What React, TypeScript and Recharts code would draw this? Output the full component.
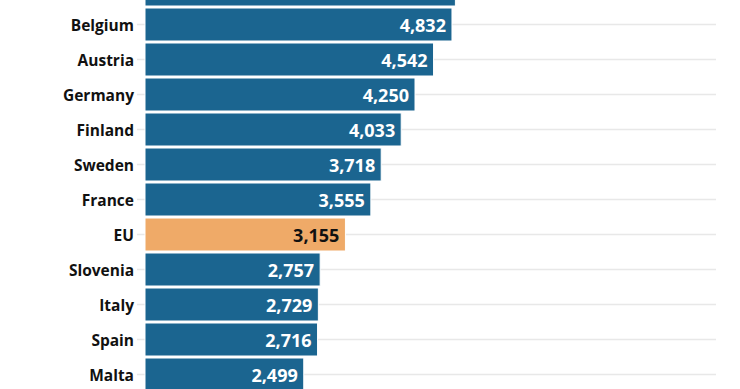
import React from 'react';
import { BarChart, Bar, XAxis, YAxis, CartesianGrid, Cell, LabelList } from 'recharts';

// first entry sits above the visible crop; only its bar end shows
const countries = ['Netherlands', 'Belgium', 'Austria', 'Germany', 'Finland', 'Sweden', 'France', 'EU', 'Slovenia', 'Italy', 'Spain', 'Malta'];
const values = [4886, 4832, 4542, 4250, 4033, 3718, 3555, 3155, 2757, 2729, 2716, 2499];

const data = countries.map((name, i) => ({ name, value: values[i] }));

const BLUE = '#1b6590';
const ORANGE = '#efaa68';
const FONT = "'Open Sans', sans-serif";

const ValueLabel = (props: any) => {
  const { x, y, width, height, value, index } = props;
  if (index === 0) return null;
  const isEU = countries[index] === 'EU';
  return (
    <text
      x={x + width - 6}
      y={y + height / 2}
      textAnchor="end"
      dominantBaseline="central"
      fill={isEU ? '#111' : '#fff'}
      fontSize={18}
      fontWeight={700}
      fontFamily={FONT}
    >
      {Number(value).toLocaleString('en-US')}
    </text>
  );
};

const CountryTick = (props: any) => {
  const { x, y, payload, index } = props;
  if (index === 0) return null;
  return (
    <text x={x} y={y} textAnchor="end" dominantBaseline="central" fill="#111" fontSize={15.5} fontWeight={700} fontFamily={FONT}>
      {payload.value}
    </text>
  );
};

export default function App() {
  return (
    <div style={{ position: 'absolute', left: 0, top: 0, width: 740, height: 389, overflow: 'hidden', background: '#fff' }}>
      <div style={{ position: 'relative', top: -28.5 }}>
        <BarChart width={740} height={420} data={data} layout="vertical" margin={{ top: 0, right: 24, bottom: 0, left: 0 }}>
          <CartesianGrid horizontal={true} vertical={false} stroke="#e8e8e8" strokeWidth={1.5} />
          <XAxis type="number" domain={[-126, 8988]} hide />
          <YAxis
            dataKey="name"
            type="category"
            width={137}
            axisLine={false}
            tickLine={false}
            tickSize={0}
            tickMargin={3}
            interval={0}
            tick={<CountryTick />}
          />
          <Bar dataKey="value" barSize={33} stroke="#fff" strokeWidth={1} isAnimationActive={false}>
            {data.map((d, i) => (
              <Cell key={`cell-${i}`} fill={d.name === 'EU' ? ORANGE : BLUE} />
            ))}
            <LabelList dataKey="value" content={ValueLabel} />
          </Bar>
        </BarChart>
      </div>
    </div>
  );
}
